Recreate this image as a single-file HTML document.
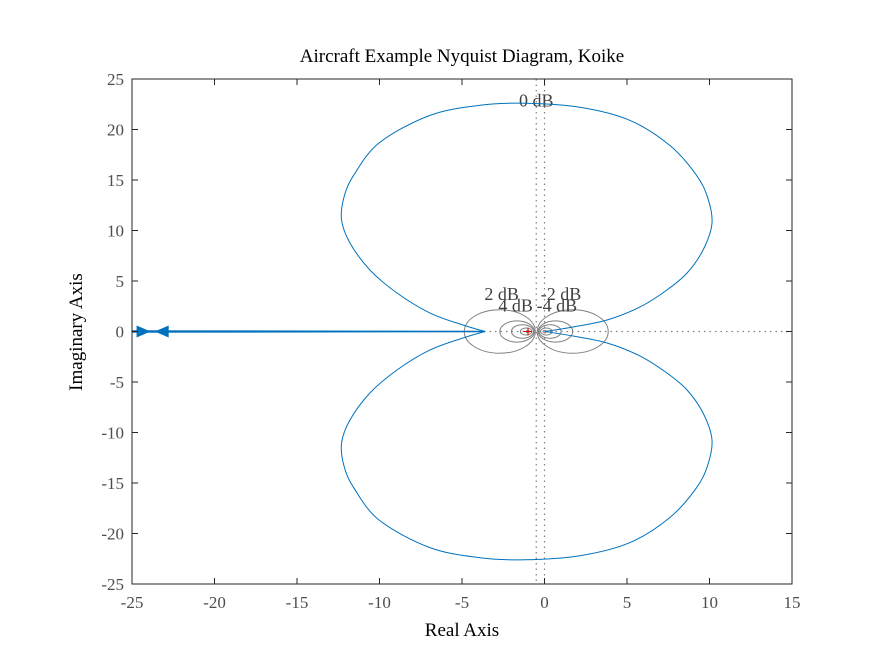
<!DOCTYPE html>
<html><head><meta charset="utf-8"><style>
body{margin:0;background:#fff}
svg{display:block;font-family:"Liberation Serif",serif}
</style></head><body>
<svg id="chart" width="875" height="656" viewBox="0 0 875 656">
<rect width="875" height="656" fill="#fff"/>
<text x="462" y="62" text-anchor="middle" font-size="19" fill="#000">Aircraft Example Nyquist Diagram, Koike</text>
<text x="462" y="636" text-anchor="middle" font-size="19" fill="#000">Real Axis</text>
<text x="0" y="0" transform="translate(82,332) rotate(-90)" text-anchor="middle" font-size="19" fill="#000">Imaginary Axis</text>
<g id="grid"></g>
<g id="series"></g>
<g id="axes"></g>
</svg>
<script>
const xTicks=[-25,-20,-15,-10,-5,0,5,10,15];
const yTicks=[-25,-20,-15,-10,-5,0,5,10,15,20,25];
const mCirclesDb=[2,4,6,10,20,-2,-4,-6,-10,-20];
const mLabelsDb=[0,2,-2,4,-4];
const curveRe=[-3.61,-4.94,-6.94,-8.94,-10.58,-11.79,-12.3,-12.15,-11.55,-10.0,-6.94,-3.91,-1.18,2.15,5.18,7.61,9.2,9.9,10.15,9.61,8.64,7.42,5.79,3.79,1.73,0.03];
const curveIm=[0,0.64,1.83,3.81,6.09,8.76,11.04,13.32,15.5,18.7,21.4,22.4,22.6,22.2,20.9,18.4,15.5,13.2,10.7,8.07,5.79,4.11,2.43,1.14,0.45,0];
const arrowRe=[-24.3,-23.2];
const arrowDir=[1,-1];

const X0=132,X1=792,Y0=584,Y1=79;
const sx=v=>X0+(v+25)/40*(X1-X0);
const sy=v=>Y0-(v+25)/50*(Y0-Y1);
const NS="http://www.w3.org/2000/svg";
function mk(t,a,p){const e=document.createElementNS(NS,t);for(const k in a)e.setAttribute(k,a[k]);p.appendChild(e);return e;}
const grid=document.getElementById('grid'),ser=document.getElementById('series'),ax=document.getElementById('axes');

mCirclesDb.forEach(db=>{
 const M=Math.pow(10,db/20),M2=M*M;
 const c=-M2/(M2-1),r=Math.abs(M/(M2-1));
 const e=mk('ellipse',{cx:sx(c),cy:sy(0),rx:r*16.5,ry:r*10.1,fill:'none',stroke:'#808080','stroke-width':1},grid);
 
 
});
let l=mk('line',{x1:sx(-0.5),x2:sx(-0.5),y1:Y1,y2:Y0,stroke:'#808080','stroke-dasharray':'1.5,4','stroke-width':1.2},grid);


l=mk('line',{x1:sx(0),x2:sx(0),y1:Y1,y2:Y0,stroke:'#808080','stroke-dasharray':'1.5,4','stroke-width':1.2},grid);


l=mk('line',{x1:X0,x2:X1,y1:sy(0),y2:sy(0),stroke:'#808080','stroke-dasharray':'1.5,4','stroke-width':1.2},grid);


const labPos={0:[-0.5,22.3],2:[-2.6,3.1],'-2':[1.0,3.1],4:[-1.75,2.0],'-4':[0.75,2.0]};
mLabelsDb.forEach(db=>{
 const p=labPos[db];
 const t=mk('text',{x:sx(p[0]),y:sy(p[1]),'text-anchor':'middle','font-size':18,fill:'#404040'},grid);
 t.textContent=db+' dB';
 
 
});
function smooth(pts){
 let d='M'+pts[0][0]+','+pts[0][1];
 for(let i=0;i<pts.length-1;i++){
  const p0=pts[Math.max(i-1,0)],p1=pts[i],p2=pts[i+1],p3=pts[Math.min(i+2,pts.length-1)];
  const c1=[p1[0]+(p2[0]-p0[0])/6,p1[1]+(p2[1]-p0[1])/6];
  const c2=[p2[0]-(p3[0]-p1[0])/6,p2[1]-(p3[1]-p1[1])/6];
  d+=`C${c1[0]},${c1[1]} ${c2[0]},${c2[1]} ${p2[0]},${p2[1]}`;
 }
 return d;
}
const upPts=curveRe.map((r,i)=>[sx(r),sy(curveIm[i])]);
const dnPts=curveRe.map((r,i)=>[sx(r),sy(-curveIm[i])]);
let p=mk('path',{d:smooth(upPts),fill:'none',stroke:'#0072bd','stroke-width':1},ser);


p=mk('path',{d:smooth(dnPts),fill:'none',stroke:'#0072bd','stroke-width':1},ser);


p=mk('path',{d:`M${sx(-25)},${sy(0.05)}L${sx(curveRe[0])},${sy(0)}L${sx(-25)},${sy(-0.05)}`,fill:'none',stroke:'#0072bd','stroke-width':1.5},ser);


arrowRe.forEach((r,i)=>{
 const x=sx(r),y=sy(0),d=arrowDir[i];
 const a=mk('polygon',{points:`${x-7*d},${y-6} ${x+7*d},${y} ${x-7*d},${y+6}`,fill:'#0072bd'},ser);
 
 
});
p=mk('path',{d:`M${sx(-1)-4},${sy(0)}h8M${sx(-1)},${sy(0)-4}v8`,stroke:'#e00000','stroke-width':1},ser);


const b=mk('rect',{x:X0,y:Y1,width:X1-X0,height:Y0-Y1,fill:'none',stroke:'#262626','stroke-width':1},ax);


xTicks.forEach(v=>{
 const x=sx(v);
 mk('line',{x1:x,x2:x,y1:Y0,y2:Y0-6,stroke:'#262626'},ax);
 mk('line',{x1:x,x2:x,y1:Y1,y2:Y1+6,stroke:'#262626'},ax);
 const t=mk('text',{x:x,y:Y0+24,'text-anchor':'middle','font-size':17,fill:'#4d4d4d'},ax);
 t.textContent=v;
 
 
});
yTicks.forEach(v=>{
 const y=sy(v);
 mk('line',{x1:X0,x2:X0+6,y1:y,y2:y,stroke:'#262626'},ax);
 mk('line',{x1:X1,x2:X1-6,y1:y,y2:y,stroke:'#262626'},ax);
 const t=mk('text',{x:X0-8,y:y+6,'text-anchor':'end','font-size':17,fill:'#4d4d4d'},ax);
 t.textContent=v;
 
 
});
</script>
</body></html>
